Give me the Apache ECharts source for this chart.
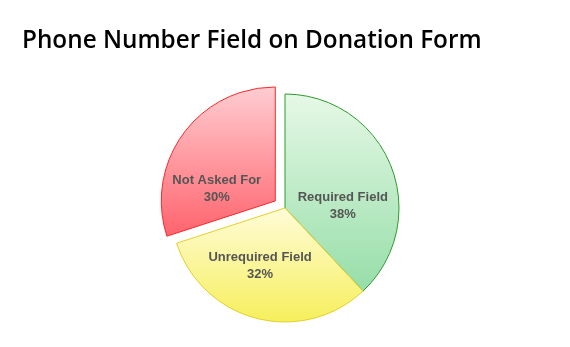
<!DOCTYPE html>
<html><head><meta charset="utf-8">
<script src="https://cdn.jsdelivr.net/npm/echarts@6/dist/echarts.min.js"></script>
<style>html,body{margin:0;padding:0;background:#fff}#c{width:570px;height:347px}</style>
</head><body><div id="c"></div>
<script>
const titleText = 'Phone Number Field on Donation Form';
const categories = ['Required Field', 'Unrequired Field', 'Not Asked For'];
const values = [38, 32, 30];
const selectedFlags = [false, false, true];

const grad = (a, b) => ({type: 'linear', x: 0, y: 0, x2: 0, y2: 1, colorStops: [{offset: 0, color: a}, {offset: 1, color: b}]});
const fills = [grad('#e6f8e6', '#96dea8'), grad('#fffcd8', '#f6ef5c'), grad('#ffcdd1', '#ff636d')];
const borders = ['#2e9a2e', '#e3cf2a', '#f42a2a'];
const labelOffsets = [[2, 20], [-10, 0], [-10, 23]];

const chart = echarts.init(document.getElementById('c'), null, {renderer: 'canvas'});
chart.setOption({
  animation: false,
  title: {text: titleText, left: 17, top: 24,
    textStyle: {fontFamily: 'Open Sans', fontWeight: 600, fontSize: 24.3, color: '#000'}},
  series: [{
    type: 'pie',
    center: [285, 208],
    radius: 114,
    startAngle: 90,
    clockwise: true,
    selectedMode: 'multiple',
    selectedOffset: 12,
    label: {position: 'inside', formatter: '{b}\n{c}%', fontFamily: 'Liberation Sans',
      fontWeight: 'bold', fontSize: 13, color: '#555', lineHeight: 17},
    labelLine: {show: false},
    emphasis: {disabled: true},
    data: categories.map((n, i) => ({
      name: n, value: values[i], selected: selectedFlags[i],
      itemStyle: {color: fills[i], borderColor: borders[i], borderWidth: 1},
      label: {offset: labelOffsets[i]},
      select: {itemStyle: {color: fills[i], borderColor: borders[i], borderWidth: 1},
        label: {offset: labelOffsets[i]}}
    }))
  }]
});
</script></body></html>
